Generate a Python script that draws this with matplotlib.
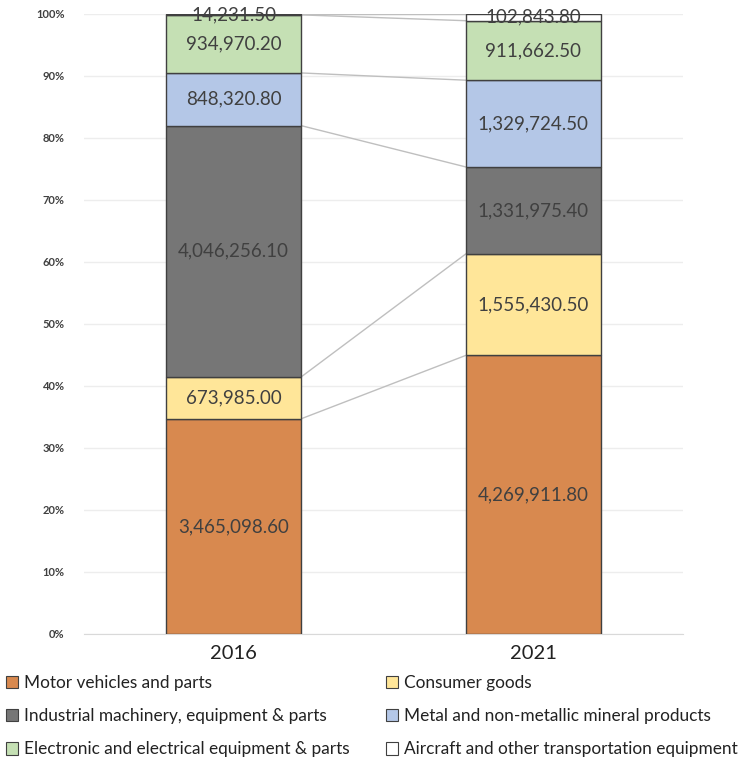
import matplotlib.pyplot as plt
from matplotlib.patches import Patch
import numpy as np

years = ["2016", "2021"]
series = ["Motor vehicles and parts",
          "Consumer goods",
          "Industrial machinery, equipment & parts",
          "Metal and non-metallic mineral products",
          "Electronic and electrical equipment & parts",
          "Aircraft and other transportation equipment"]
motor = [3465098.60, 4269911.80]
consumer = [673985.00, 1555430.50]
industrial = [4046256.10, 1331975.40]
metal = [848320.80, 1329724.50]
electronic = [934970.20, 911662.50]
aircraft = [14231.50, 102843.80]
colors = ["#D8894F", "#FFE699", "#767676", "#B4C7E7", "#C5E0B4", "#FFFFFF"]

plt.rcParams['font.family'] = ['Lato', 'DejaVu Sans']

values = np.array([motor, consumer, industrial, metal, electronic, aircraft])
pct = values / values.sum(axis=0) * 100

fig = plt.figure(figsize=(7.47, 7.61), dpi=100)
ax = fig.add_axes([84/747, 1-634/761, (683-84)/747, (634-14)/761])

x = np.arange(len(years))
w = 0.45
bottom = np.zeros(len(years))
for i in range(len(series)):
    ax.bar(x, pct[i], w, bottom=bottom, color=colors[i], edgecolor="#404040",
           linewidth=1, zorder=3)
    for j in range(len(years)):
        ax.text(x[j], bottom[j] + pct[i][j] / 2, f"{values[i][j]:,.2f}",
                ha="center", va="center", fontsize=13.5, color="#404040", zorder=5)
    top = bottom + pct[i]
    # series lines between bars
    ax.plot([x[0] + w/2, x[1] - w/2], [top[0], top[1]], color="#BFBFBF",
            linewidth=1, zorder=2)
    bottom = top

ax.set_xlim(-0.5, 1.5)
ax.set_ylim(0, 100)
ax.set_yticks(np.arange(0, 101, 10))
ax.set_yticklabels([f"{t}%" for t in range(0, 101, 10)], fontsize=8,
                   fontweight="bold", color="#404040")
ax.set_xticks(x)
ax.set_xticklabels(years, fontsize=14.5, color="#222222")
ax.tick_params(axis="both", length=0)
ax.tick_params(axis="y", pad=14)
ax.tick_params(axis="x", pad=8)
ax.grid(axis="y", color="#EDEDED", linewidth=1, zorder=0)
for s in ["top", "right", "left"]:
    ax.spines[s].set_visible(False)
ax.spines["bottom"].set_color("#D9D9D9")

handles = [Patch(facecolor=colors[i], edgecolor="#404040", linewidth=0.8, label=series[i])
           for i in range(len(series))]
common = dict(frameon=False, fontsize=12.4, handlelength=0.72, handleheight=0.72,
              handletextpad=0.3, labelspacing=1.0, borderpad=0, borderaxespad=0,
              labelcolor="#222222")
leg1 = fig.legend(handles=[handles[0], handles[2], handles[4]], loc="upper left",
                  bbox_to_anchor=(6/747, 1-675/761), **common)
leg2 = fig.legend(handles=[handles[1], handles[3], handles[5]], loc="upper left",
                  bbox_to_anchor=(386/747, 1-675/761), **common)

fig.savefig("out.png", dpi=100)
